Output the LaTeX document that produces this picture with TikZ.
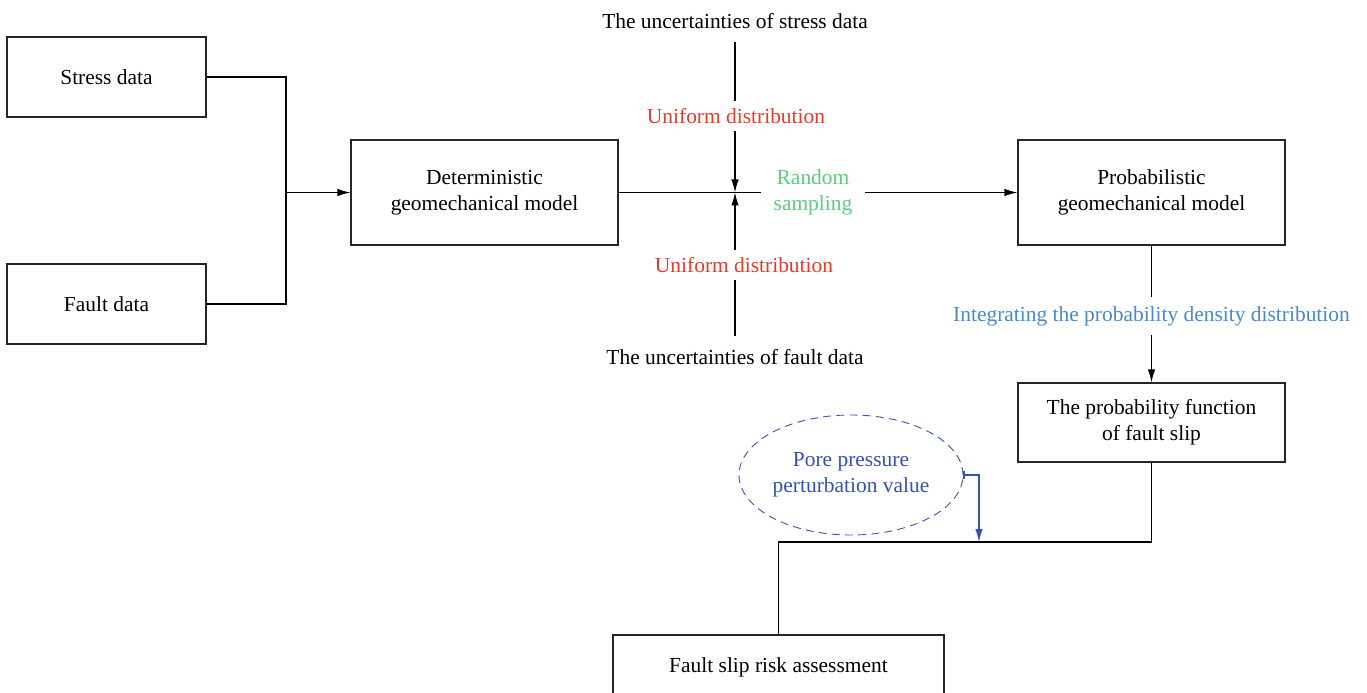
\documentclass[tikz,border=0pt]{standalone}
\usepackage{fontspec}
\setmainfont{Liberation Serif}
\usetikzlibrary{arrows.meta,shapes.geometric}
\definecolor{unifred}{RGB}{232,57,43}
\definecolor{samplegreen}{RGB}{92,204,122}
\definecolor{intblue}{RGB}{74,136,200}
\definecolor{poreblue}{RGB}{52,82,176}

\begin{document}
\begin{tikzpicture}[
  font=\fontsize{12.2}{14.8}\selectfont,
  line width=0.7pt,
  box/.style={rectangle, draw=black!85, align=center,
              minimum width=3.98cm, minimum height=1.6cm},
  modelbox/.style={box, minimum width=5.34cm, minimum height=2.1cm},
  funcbox/.style={box, minimum width=5.34cm, minimum height=1.58cm},
  riskbox/.style={box, minimum width=6.62cm, minimum height=1.3cm},
  lbl/.style={align=center, inner xsep=7pt, inner ysep=7pt},
  unif/.style={lbl, text=unifred, inner ysep=4pt},
  pore/.style={ellipse, draw=poreblue, dash pattern=on 4.5pt off 3pt,
               line width=0.5pt, text=poreblue, align=center,
               minimum width=4.48cm, minimum height=2.4cm, inner sep=0pt},
  arrow/.style={-{Latex[length=2.6mm,width=1.5mm]}}
]
  \useasboundingbox (0,0) rectangle (27.34,-13.86);

  % inputs
  \node[box] (sd) at (2.13, -1.54) {Stress data};
  \node[box] (fd) at (2.13, -6.08) {Fault data};

  % models
  \node[modelbox] (det)  at (9.69, -3.85)  {Deterministic\\geomechanical model};
  \node[modelbox] (prob) at (23.03, -3.85) {Probabilistic\\geomechanical model};
  \node[funcbox]  (pf)   at (23.03, -8.45) {The probability function\\of fault slip};
  \node[riskbox]  (risk) at (15.57, -13.35) {Fault slip risk assessment};

  % uncertainties
  \node[lbl] (su) at (14.7, -0.42) {The uncertainties of stress data};
  \node[unif] (uu) at (14.72, -2.32) {Uniform distribution};
  \node[unif] (ul) at (14.88, -5.3)  {Uniform distribution};
  \node[lbl] (fu) at (14.7, -7.14) {The uncertainties of fault data};
  \node[lbl, text=samplegreen] (rs) at (16.26, -3.85) {Random\\sampling};
  \node[lbl, text=intblue, inner ysep=5pt] (ig) at (23.03, -6.32)
    {Integrating the probability density distribution};

  \node[pore] (pp) at (17.02, -9.5) {Pore pressure\\perturbation value};

  \coordinate (jn)    at (5.72, -3.85);
  \coordinate (cross) at (14.7, -3.85);
  \coordinate (elbow) at (23.03, -10.84);
  \coordinate (tap)   at (19.58, -10.84);

  \draw (sd.east) -| (jn);
  \draw (fd.east) -| (jn);
  \draw[arrow] (jn) -- (det.west);

  \draw (det.east) -- (rs.west);
  \draw[arrow] (rs.east) -- (prob.west);

  \draw (su.south) -- (uu.north -| cross);
  \draw[arrow] (uu.south -| cross) -- (cross);
  \draw (fu.north) -- (ul.south -| cross);
  \draw[arrow] (ul.north -| cross) -- (cross);

  \draw (prob.south) -- (ig.north);
  \draw[arrow] (ig.south) -- (pf.north);

  \draw (pf.south) -- (elbow) -| (risk.north);
  \draw[poreblue, {Bar[width=1.6mm]}-{Latex[length=2.6mm,width=1.5mm]}]
    (pp.east) -| (tap);

\end{tikzpicture}
\end{document}
